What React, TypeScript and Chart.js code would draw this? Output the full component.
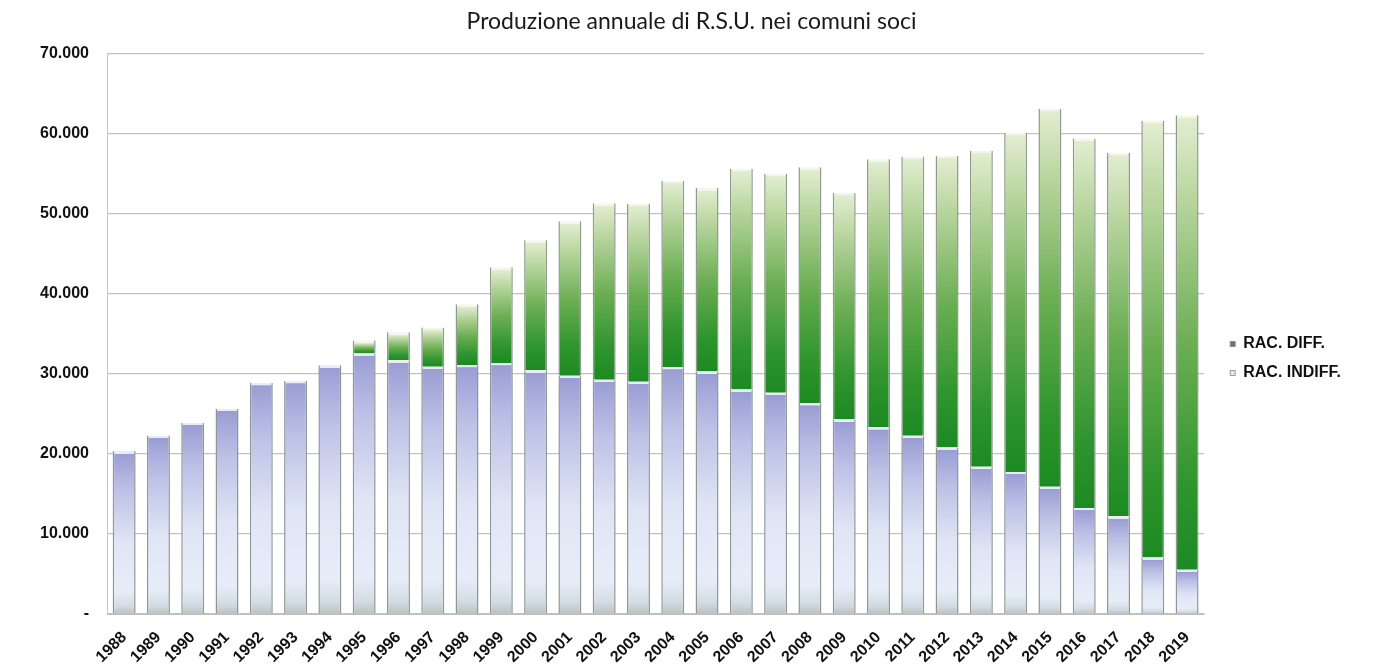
import React, { useEffect, useRef } from 'react';
import { Chart, registerables } from 'chart.js';

Chart.register(...registerables);

const years = [
  '1988', '1989', '1990', '1991', '1992', '1993', '1994', '1995', '1996', '1997', '1998',
  '1999', '2000', '2001', '2002', '2003', '2004', '2005', '2006', '2007', '2008', '2009',
  '2010', '2011', '2012', '2013', '2014', '2015', '2016', '2017', '2018', '2019',
];

const racIndiff = [
  20350, 22300, 23870, 25620, 28850, 29100, 31080, 32550, 31700, 30870, 31100,
  31350, 30450, 29750, 29250, 29000, 30850, 30300, 28050, 27650, 26350, 24300,
  23350, 22250, 20800, 18400, 17750, 15900, 13250, 12200, 7050, 5520,
];

const racDiff = [
  0, 0, 0, 0, 0, 0, 0, 1600, 3500, 4930, 7600,
  11950, 16250, 19300, 22050, 22250, 23250, 22900, 27550, 27350, 29450, 28300,
  33450, 34900, 36450, 39450, 42350, 47200, 46150, 45400, 54550, 56780,
];

const yMax = 70000;
const yStep = 10000;

const title = 'Produzione annuale di R.S.U. nei comuni soci';
const labelDiff = 'RAC. DIFF.';
const labelIndiff = 'RAC. INDIFF.';

const indiffStops: [number, string][] = [
  [0, '#b7c3c2'],
  [0.05, '#d3dce4'],
  [0.14, '#e7edf8'],
  [0.45, '#dfe5f5'],
  [0.78, '#bcc0e6'],
  [1, '#9a9dd3'],
];
const indiffCap = '#e9ebf8';
const diffStops: [number, string][] = [
  [0, '#1c8a22'],
  [0.18, '#2e942e'],
  [0.5, '#6cae54'],
  [0.82, '#b8d59e'],
  [1, '#e2edd0'],
];
const diffCap = '#f3f7ea';

function fmt(v: number): string {
  if (v === 0) return '-';
  return String(Math.round(v)).replace(/\B(?=(\d{3})+(?!\d))/g, '.');
}

function segGradient(
  chart: any,
  bottomVal: number,
  topVal: number,
  stops: [number, string][],
  cap: string,
) {
  const y = chart.scales && chart.scales.y;
  const fallback = stops[Math.floor(stops.length / 2)][1];
  if (!y || !chart.chartArea) return fallback;
  const yb = y.getPixelForValue(bottomVal);
  const yt = y.getPixelForValue(topVal);
  if (!isFinite(yb) || !isFinite(yt) || Math.abs(yb - yt) < 0.5) return fallback;
  const h = Math.abs(yb - yt);
  const cf = Math.min(0.3, 2.5 / h);
  const g = chart.ctx.createLinearGradient(0, yb, 0, yt);
  stops.forEach(([o, c]) => g.addColorStop(o * (1 - cf), c));
  g.addColorStop(Math.min(1, 1 - cf + 0.0005), cap);
  g.addColorStop(1, cap);
  return g;
}

export default function App() {
  const ref = useRef<HTMLCanvasElement | null>(null);

  useEffect(() => {
    if (!ref.current) return;
    const fontFamily = '"Liberation Sans", Arial, sans-serif';
    Chart.defaults.font.family = fontFamily;
    const chart = new Chart(ref.current, {
      type: 'bar',
      data: {
        labels: years,
        datasets: [
          {
            label: labelIndiff,
            data: racIndiff,
            backgroundColor: (c: any) =>
              segGradient(c.chart, 0, racIndiff[c.dataIndex] ?? 0, indiffStops, indiffCap),
            borderColor: '#8e9696',
            borderWidth: { left: 1.5, right: 1.5, top: 0, bottom: 0 },
            borderSkipped: false,
            categoryPercentage: 1,
            barPercentage: 0.67,
          },
          {
            label: labelDiff,
            data: racDiff,
            backgroundColor: (c: any) =>
              segGradient(
                c.chart,
                racIndiff[c.dataIndex] ?? 0,
                (racIndiff[c.dataIndex] ?? 0) + (racDiff[c.dataIndex] ?? 0),
                diffStops,
                diffCap,
              ),
            borderColor: '#8e9a8e',
            borderWidth: { left: 1.5, right: 1.5, top: 0, bottom: 0 },
            borderSkipped: false,
            categoryPercentage: 1,
            barPercentage: 0.67,
          },
        ],
      },
      options: {
        responsive: false,
        animation: false,
        devicePixelRatio: 1,
        layout: { padding: { left: 32, right: 38, top: 0, bottom: 0 } },
        scales: {
          x: {
            stacked: true,
            grid: { display: false },
            border: { display: true, color: '#bdbdbd', width: 1 },
            ticks: {
              autoSkip: false,
              minRotation: 45,
              maxRotation: 45,
              padding: 6,
              color: '#111111',
              font: { size: 16, weight: 'bold' },
            },
            afterFit: (s: any) => {
              s.height = 52;
            },
          },
          y: {
            stacked: true,
            min: 0,
            max: yMax,
            grid: { color: '#c2c2c2', lineWidth: 1.2, drawTicks: false },
            border: { display: true, color: '#c8c8c8', width: 1 },
            ticks: {
              stepSize: yStep,
              padding: 18,
              color: '#111111',
              font: { size: 16, weight: 'bold' },
              callback: (v: any) => fmt(Number(v)),
            },
            afterFit: (s: any) => {
              s.width = 75;
            },
          },
          yR: {
            type: 'linear',
            position: 'right',
            display: true,
            grid: { display: false, drawTicks: false },
            border: { display: false },
            ticks: { display: false },
            afterFit: (s: any) => {
              s.width = 13;
            },
          },
        },
        plugins: {
          title: {
            display: true,
            text: title,
            color: '#1a1a1a',
            font: { family: 'Lato, "Open Sans", sans-serif', size: 23, weight: 'normal' },
            padding: { top: 8, bottom: 18 },
          },
          legend: {
            position: 'right',
            align: 'start',
            title: {
              display: true,
              text: ' ',
              font: { size: 15 },
              padding: { top: 305, bottom: 0 },
            },
            labels: {
              boxWidth: 5,
              boxHeight: 5,
              padding: 13,
              color: '#111111',
              font: { size: 16, weight: 'bold' },
              generateLabels: () => [
                {
                  text: labelDiff,
                  fillStyle: '#5f7f62',
                  strokeStyle: '#8a8a8a',
                  fontColor: '#111111',
                  lineWidth: 1,
                  hidden: false,
                  datasetIndex: 1,
                },
                {
                  text: labelIndiff,
                  fillStyle: '#e6e8ef',
                  strokeStyle: '#9a9a9a',
                  fontColor: '#111111',
                  lineWidth: 1,
                  hidden: false,
                  datasetIndex: 0,
                },
              ],
            },
          },
          tooltip: { enabled: false },
        },
      } as any,
    });
    return () => chart.destroy();
  }, []);

  return (
    <div style={{ position: 'absolute', left: 0, top: 0, width: 1389, height: 666, background: '#ffffff' }}>
      <canvas ref={ref} width={1389} height={666} style={{ width: 1389, height: 666, display: 'block' }} />
    </div>
  );
}
